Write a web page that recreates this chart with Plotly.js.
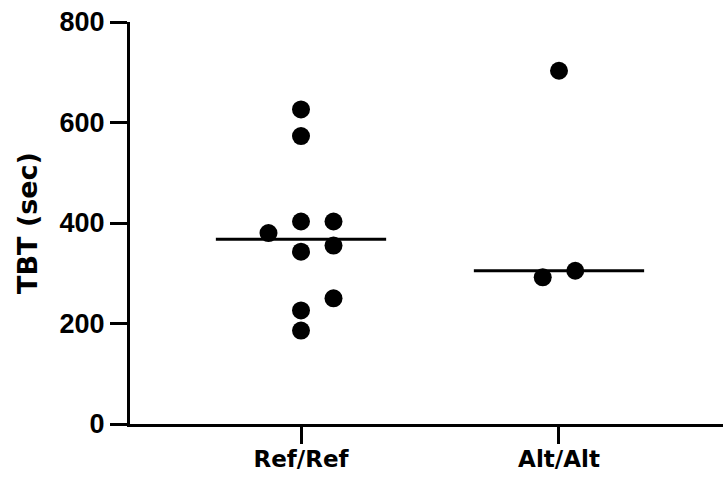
<!DOCTYPE html>
<html>
<head>
<meta charset="utf-8">
<script src="https://cdn.plot.ly/plotly-3.0.1.min.js"></script>
<style>html,body{margin:0;padding:0;background:#fff;}#chart{width:723px;height:477px;}</style>
</head>
<body>
<div id="chart"></div>
<script>
// Data
const categories = ["Ref/Ref", "Alt/Alt"];
const refValues = [626, 573, 403, 403, 380, 355, 343, 250, 226, 186];
const altValues = [703, 292, 305];
const yTickVals = [0, 200, 400, 600, 800];
const yTickText = ["0", "200", "400", "600", "800"];

// Layout / style (horizontal scatter columns for each point)
const refColumns = [0, 0, 0, 1, -1, 1, 0, 1, 0, 0];
const altColumns = [0, -1, 1];
const refSpread = 0.126;
const altSpread = 0.063;
const medianHalfWidth = 0.33;

function median(a) {
  const s = a.slice().sort((p, q) => p - q);
  const n = s.length;
  return n % 2 ? s[(n - 1) / 2] : (s[n / 2 - 1] + s[n / 2]) / 2;
}

const groups = [
  {vals: refValues, cols: refColumns, spread: refSpread, idx: 0},
  {vals: altValues, cols: altColumns, spread: altSpread, idx: 1}
];

const traces = [];
groups.forEach(g => {
  const m = median(g.vals);
  traces.push({
    x: [g.idx - medianHalfWidth, g.idx + medianHalfWidth],
    y: [m, m],
    mode: "lines",
    line: {color: "#000", width: 3},
    hoverinfo: "skip",
    showlegend: false
  });
  traces.push({
    x: g.vals.map((v, i) => g.idx + g.cols[i] * g.spread),
    y: g.vals,
    mode: "markers",
    marker: {color: "#000", size: 18},
    cliponaxis: false,
    showlegend: false
  });
});

const arial = "Liberation Sans, Arial, sans-serif";
const dejavu = "DejaVu Sans, sans-serif";

const layout = {
  width: 723,
  height: 477,
  margin: {l: 130, r: 0, t: 22, b: 53},
  paper_bgcolor: "#fff",
  plot_bgcolor: "#fff",
  showlegend: false,
  font: {family: arial, color: "#000"},
  xaxis: {
    range: [-0.6628, 1.6357],
    tickvals: [0, 1],
    ticktext: categories.map(c => "<b>" + c + "</b>"),
    ticks: "outside",
    ticklen: 17,
    tickwidth: 3,
    tickcolor: "#000",
    showline: true,
    linewidth: 3,
    linecolor: "#000",
    showgrid: false,
    zeroline: false,
    tickfont: {family: dejavu, size: 23, color: "#000"},
    ticklabelstandoff: -5,
    fixedrange: true
  },
  yaxis: {
    range: [0, 800],
    tickvals: yTickVals,
    ticktext: yTickText.map(t => "<b>" + t + "</b>"),
    ticks: "outside",
    ticklen: 17,
    tickwidth: 3,
    tickcolor: "#000",
    showline: true,
    linewidth: 3,
    linecolor: "#000",
    showgrid: false,
    zeroline: false,
    tickfont: {family: arial, size: 27, color: "#000"},
    title: {text: "<b>TBT (sec)</b>", font: {family: dejavu, size: 27, color: "#000"}, standoff: 15},
    fixedrange: true
  }
};

Plotly.newPlot("chart", traces, layout, {displayModeBar: false, staticPlot: true});
</script>
</body>
</html>
